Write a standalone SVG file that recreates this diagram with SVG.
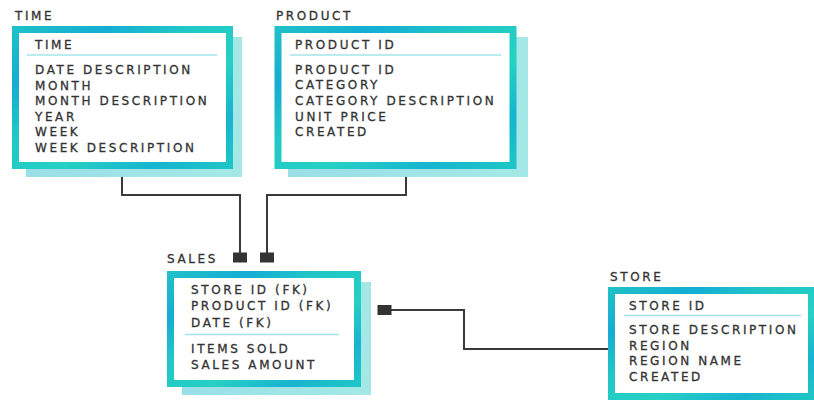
<svg xmlns="http://www.w3.org/2000/svg" width="814" height="400" viewBox="0 0 814 400">
  <defs>
    <linearGradient id="rim" x1="0" y1="0" x2="1" y2="1">
      <stop offset="0" stop-color="#1fc0c7"/>
      <stop offset="0.2" stop-color="#16acd4"/>
      <stop offset="0.4" stop-color="#21c8c6"/>
      <stop offset="0.62" stop-color="#26d0c3"/>
      <stop offset="0.82" stop-color="#17b4d0"/>
      <stop offset="1" stop-color="#1fc5c6"/>
    </linearGradient>
    <linearGradient id="shade" x1="0" y1="0" x2="1" y2="0">
      <stop offset="0" stop-color="#9adfe8"/>
      <stop offset="1" stop-color="#a4e8e6"/>
    </linearGradient>
    <rect id="fk" width="14" height="10" fill="#333333"/>
  </defs>
  <style>
    .shadow { fill: url(#shade); }
    .box { fill: #ffffff; stroke: url(#rim); stroke-width: 7; }
    .sep { stroke: #a4e4ea; stroke-width: 1.6; fill: none; }
    text { font-family: "DejaVu Sans", "Liberation Sans", sans-serif; font-size: 12px; letter-spacing: 2.6px; fill: #333333; stroke: #333333; stroke-width: 0.3px; }
    .link { fill: none; stroke: #3a3a3a; stroke-width: 2; }
  </style>

  <rect width="814" height="400" fill="#ffffff"/>

  <!-- connectors -->
  <g id="connectors">
    <path class="link" d="M122 169 V195 H240 V253"/>
    <path class="link" d="M406 169 V195 H267 V253"/>
    <path class="link" d="M391 310 H464 V349 H610"/>
    <use href="#fk" x="233" y="252.5"/>
    <use href="#fk" x="260" y="252.5"/>
    <use href="#fk" x="377.5" y="305"/>
  </g>

  <!-- TIME table -->
  <g id="time">
    <text x="15" y="19.5">TIME</text>
    <rect class="shadow" x="26" y="37" width="216" height="140"/>
    <rect class="box" x="15.5" y="29.5" width="214" height="136"/>
    <text x="35" y="48.5">TIME</text>
    <line class="sep" x1="27" y1="55" x2="217" y2="55"/>
    <text x="35" y="74">DATE DESCRIPTION</text>
    <text x="35" y="89.5">MONTH</text>
    <text x="35" y="105">MONTH DESCRIPTION</text>
    <text x="35" y="120.5">YEAR</text>
    <text x="35" y="136">WEEK</text>
    <text x="35" y="151.5">WEEK DESCRIPTION</text>
  </g>

  <!-- PRODUCT table -->
  <g id="product">
    <text x="276" y="19.5">PRODUCT</text>
    <rect class="shadow" x="288" y="37" width="240" height="140"/>
    <rect class="box" x="278" y="29.5" width="235" height="136"/>
    <text x="295" y="48.5">PRODUCT ID</text>
    <line class="sep" x1="290" y1="55" x2="501" y2="55"/>
    <text x="295" y="73.5">PRODUCT ID</text>
    <text x="295" y="89">CATEGORY</text>
    <text x="295" y="104.5">CATEGORY DESCRIPTION</text>
    <text x="295" y="120.5">UNIT PRICE</text>
    <text x="295" y="136">CREATED</text>
  </g>

  <!-- SALES table -->
  <g id="sales">
    <text x="167" y="263">SALES</text>
    <rect class="shadow" x="182" y="282" width="189" height="113"/>
    <rect class="box" x="170.5" y="274.5" width="187" height="109"/>
    <text x="191" y="294">STORE ID (FK)</text>
    <text x="191" y="310">PRODUCT ID (FK)</text>
    <text x="191" y="326.5">DATE (FK)</text>
    <line class="sep" x1="185" y1="334.5" x2="339" y2="334.5"/>
    <text x="191" y="352.5">ITEMS SOLD</text>
    <text x="191" y="368.5">SALES AMOUNT</text>
  </g>

  <!-- STORE table (runs past the right and bottom edges) -->
  <g id="store">
    <text x="610" y="281">STORE</text>
    <rect class="box" x="611.5" y="290.5" width="200" height="106"/>
    <text x="629" y="310">STORE ID</text>
    <line class="sep" x1="624" y1="315.5" x2="801" y2="315.5"/>
    <text x="629" y="334">STORE DESCRIPTION</text>
    <text x="629" y="349.5">REGION</text>
    <text x="629" y="365">REGION NAME</text>
    <text x="629" y="381">CREATED</text>
  </g>
</svg>
